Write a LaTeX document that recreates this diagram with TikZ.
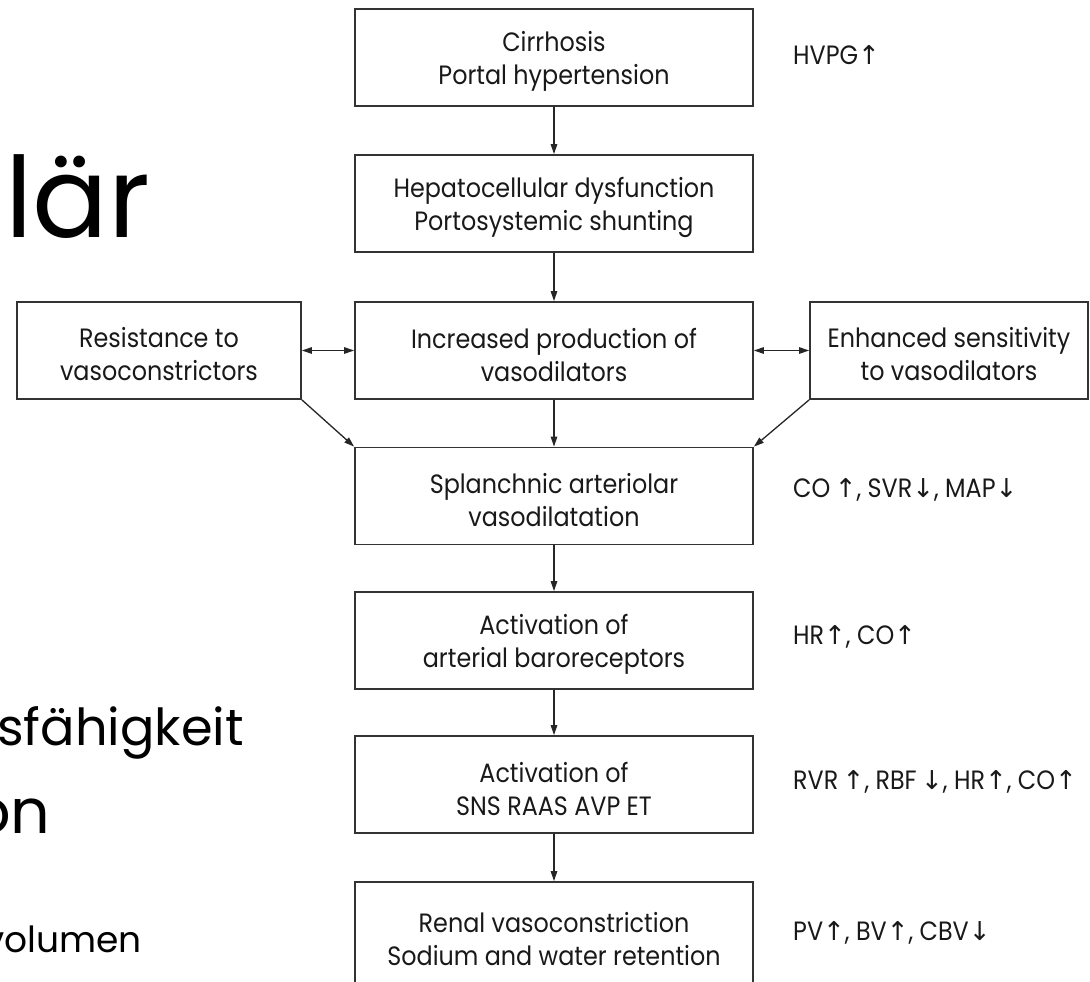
\documentclass[tikz,border=0pt]{standalone}
\usepackage{fontspec}
\setmainfont{Poppins}
\newfontfamily\boxfont[FakeStretch=0.9]{Poppins}
\newfontfamily\arrfont{DejaVu Sans}
\usetikzlibrary{arrows.meta}
\newcommand{\arr}[1]{{\arrfont\fontsize{26}{26}\selectfont #1}}
\begin{document}
\begin{tikzpicture}[x=1pt,y=-1pt,
  boxtxt/.style={inner sep=0pt, align=center, text=black!90, yshift=-4pt,
    font=\boxfont\fontsize{26.5}{33}\selectfont},
  box/.style={draw=black!80, line width=1.8pt, minimum width=398pt, minimum height=97pt,
    inner sep=0pt, label={[boxtxt]center:{#1}}},
  lab/.style={anchor=west, inner sep=0pt, text=black!90, font=\boxfont\fontsize{26.5}{30}\selectfont},
  big/.style={anchor=base west, inner sep=0pt, text=black},
  arr/.style={draw=black!85, line width=1.3pt, -{Stealth[length=10pt,width=6.5pt,inset=0pt]}},
  arrb/.style={draw=black!85, line width=1.3pt, {Stealth[length=10pt,width=6.5pt,inset=0pt]}-{Stealth[length=10pt,width=6.5pt,inset=0pt]}}
]
\useasboundingbox (0,0) rectangle (1090,982);
\clip (0,0) rectangle (1090,982);
\fill[white] (0,0) rectangle (1090,982);

% German slide text (partly cut off, as in the reference)
\node[big, font=\fontsize{112}{112}\selectfont] (g1) at (5,237) {lär};
\node[big, font=\fontsize{51}{51}\selectfont] (g2) at (-3,745) {sfähigkeit};
\node[big, font=\fontsize{62}{62}\selectfont] (g3) at (-29,833) {on};
\node[big, font=\fontsize{36}{36}\selectfont] (g4) at (-16,952) {volumen};

% main column
\node[box={Cirrhosis\\Portal hypertension}] (c1) at (554,57.5) {};
\node[box={Hepatocellular dysfunction\\Portosystemic shunting}] (c2) at (554,203.5) {};
\node[box={Increased production of\\vasodilators}] (c3) at (554,350.5) {};
\node[box={Resistance to\\vasoconstrictors}, minimum width=284pt] (L) at (159,350.5) {};
\node[box={Enhanced sensitivity\\to vasodilators}, minimum width=278pt] (R) at (949,350.5) {};
\node[box={Splanchnic arteriolar\\vasodilatation}] (c4) at (554,496) {};
\node[box={Activation of\\arterial baroreceptors}] (c5) at (554,640.5) {};
\node[box={Activation of\\SNS RAAS AVP ET}] (c6) at (554,784.5) {};
\node[box={Renal vasoconstriction\\Sodium and water retention}, minimum height=106pt] (c7) at (554,935) {};

% connectors
\draw[arr] (c1) -- (c2);
\draw[arr] (c2) -- (c3);
\draw[arr] (c3) -- (c4);
\draw[arr] (c4) -- (c5);
\draw[arr] (c5) -- (c6);
\draw[arr] (c6) -- (c7);
\draw[arrb] (L) -- (c3);
\draw[arrb] (c3) -- (R);
\draw[arr] (L.south east) -- (c4.north west);
\draw[arr] (R.south west) -- (c4.north east);

% right-hand labels
\node[lab] (h1) at (793,55) {HVPG\arr{↑}};
\node[lab] (h2) at (793,490) {CO\,\arr{↑}, SVR\arr{↓}, MAP\arr{↓}};
\node[lab] (h3) at (793,637) {HR\arr{↑}, CO\arr{↑}};
\node[lab] (h4) at (793,782) {RVR\,\arr{↑}, RBF\,\arr{↓}, HR\arr{↑}, CO\arr{↑}};
\node[lab] (h5) at (793,933) {PV\arr{↑}, BV\arr{↑}, CBV\arr{↓}};
\end{tikzpicture}
\end{document}
